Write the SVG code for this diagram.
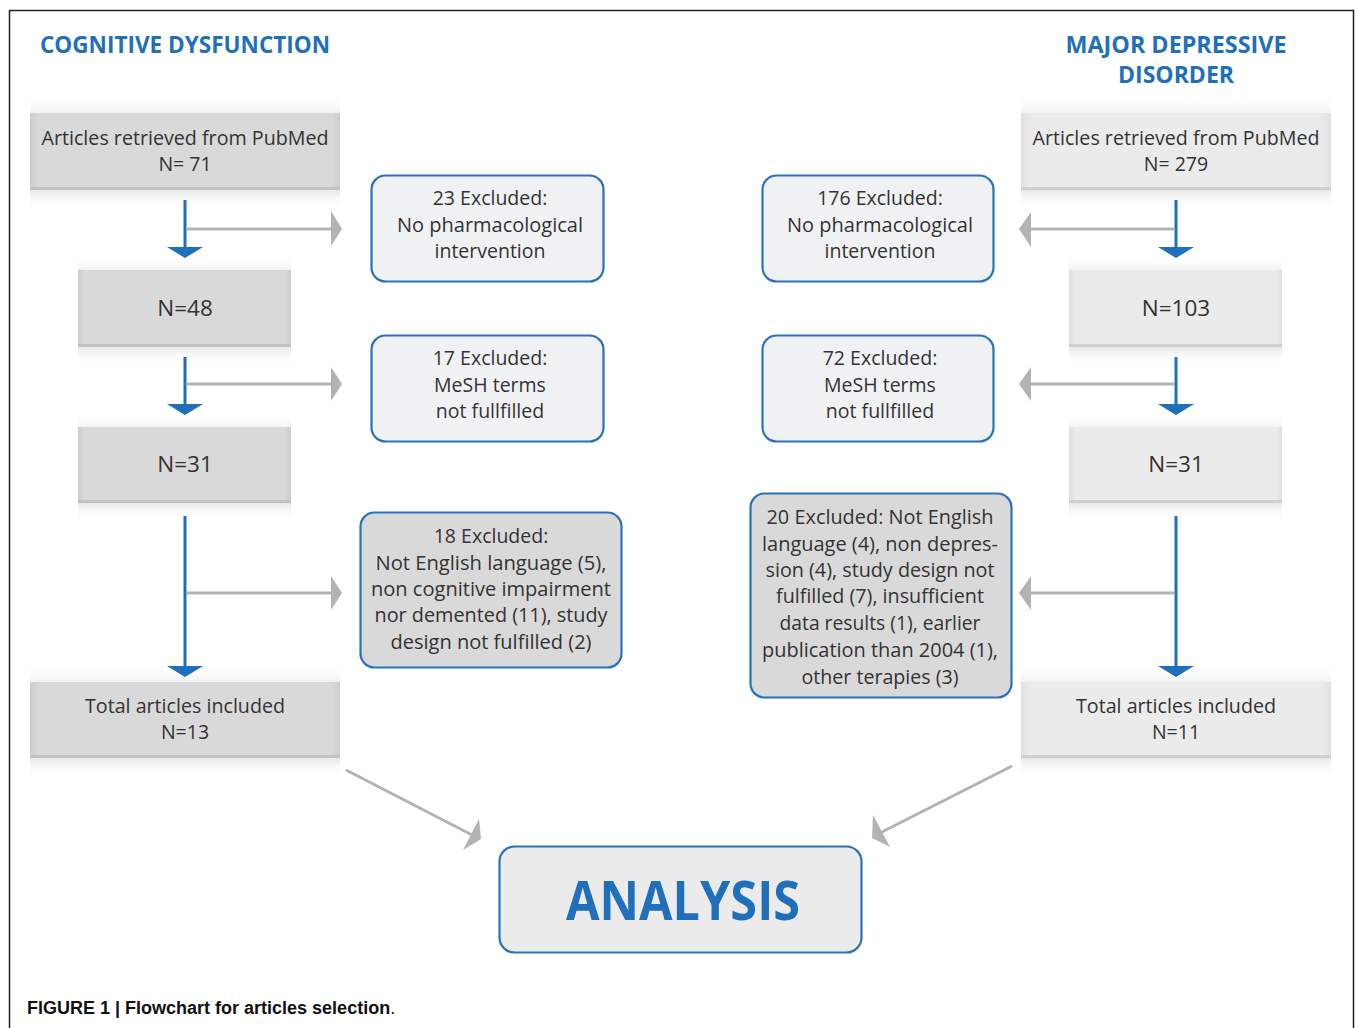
<svg xmlns="http://www.w3.org/2000/svg" width="1355" height="1028" viewBox="0 0 1355 1028">
<defs>
<style>
.t{font-family:"Open Sans","Noto Sans","Liberation Sans",sans-serif;font-size:19.5px;fill:#333;text-anchor:middle}
.n{font-size:22.5px}
.h{font-family:"Open Sans","Liberation Sans",sans-serif;font-weight:bold;font-size:23px;fill:#1f6fba;text-anchor:middle}
.ex{fill:#f0f1f3;stroke:#2a72b8;stroke-width:2.2}
.exg{fill:#d9d9d9;stroke:#2a72b8;stroke-width:2.2}
.bl{stroke:#1f6fba;stroke-width:3;fill:none}
.bh{fill:#1f6fba}
.gl{stroke:#b3b3b3;stroke-width:3;fill:none}
.gh{fill:#b3b3b3}
</style>
<linearGradient id="up" x1="0" y1="0" x2="0" y2="1">
<stop offset="0" stop-color="#ffffff" stop-opacity="0"/>
<stop offset="1" stop-color="#ececec" stop-opacity="0.7"/>
</linearGradient>
<linearGradient id="dn" x1="0" y1="0" x2="0" y2="1">
<stop offset="0" stop-color="#e2e2e2" stop-opacity="0.8"/>
<stop offset="1" stop-color="#ffffff" stop-opacity="0"/>
</linearGradient>
<linearGradient id="sideD" x1="0" y1="0" x2="1" y2="0">
<stop offset="0" stop-color="#cdcdcd"/>
<stop offset="0.03" stop-color="#d9d9d9"/>
<stop offset="0.97" stop-color="#d9d9d9"/>
<stop offset="1" stop-color="#cdcdcd"/>
</linearGradient>
<linearGradient id="sideL" x1="0" y1="0" x2="1" y2="0">
<stop offset="0" stop-color="#e0e0e0"/>
<stop offset="0.03" stop-color="#ebebeb"/>
<stop offset="0.97" stop-color="#ebebeb"/>
<stop offset="1" stop-color="#e0e0e0"/>
</linearGradient>
</defs>
<rect x="0" y="0" width="1355" height="1028" fill="#ffffff"/>
<rect x="9.5" y="10.5" width="1344" height="1030" fill="none" stroke="#222" stroke-width="1.5"/>

<g id="title-left"><text class="h" x="185" y="53" textLength="290" lengthAdjust="spacingAndGlyphs">COGNITIVE DYSFUNCTION</text></g>
<g id="title-right"><text class="h" x="1176" y="53" textLength="221" lengthAdjust="spacingAndGlyphs">MAJOR DEPRESSIVE</text><text class="h" x="1176" y="83" textLength="116" lengthAdjust="spacingAndGlyphs">DISORDER</text></g>

<!-- left column boxes -->
<g id="L1">
<rect x="30" y="95" width="310" height="18" fill="url(#up)"/>
<rect x="30" y="113" width="310" height="77" fill="url(#sideD)"/>
<rect x="30" y="187" width="310" height="3" fill="#c2c2c2"/>
<rect x="30" y="190" width="310" height="20" fill="url(#dn)"/>
<text class="t" x="185" y="145" textLength="287" lengthAdjust="spacingAndGlyphs">Articles retrieved from PubMed</text>
<text class="t" x="185" y="171">N= 71</text>
</g>
<g id="L2">
<rect x="78" y="256" width="213" height="14" fill="url(#up)"/>
<rect x="78" y="270" width="213" height="77" fill="url(#sideD)"/>
<rect x="78" y="344" width="213" height="3" fill="#c2c2c2"/>
<rect x="78" y="347" width="213" height="18" fill="url(#dn)"/>
<text class="t n" x="185" y="316">N=48</text>
</g>
<g id="L3">
<rect x="78" y="413" width="213" height="14" fill="url(#up)"/>
<rect x="78" y="427" width="213" height="76" fill="url(#sideD)"/>
<rect x="78" y="500" width="213" height="3" fill="#c2c2c2"/>
<rect x="78" y="503" width="213" height="18" fill="url(#dn)"/>
<text class="t n" x="185" y="472">N=31</text>
</g>
<g id="L4">
<rect x="30" y="664" width="310" height="18" fill="url(#up)"/>
<rect x="30" y="682" width="310" height="76" fill="url(#sideD)"/>
<rect x="30" y="755" width="310" height="3" fill="#c2c2c2"/>
<rect x="30" y="758" width="310" height="20" fill="url(#dn)"/>
<text class="t" x="185" y="713" textLength="200" lengthAdjust="spacingAndGlyphs">Total articles included</text>
<text class="t" x="185" y="739">N=13</text>
</g>

<!-- right column boxes -->
<g id="R1">
<rect x="1021" y="95" width="310" height="18" fill="url(#up)"/>
<rect x="1021" y="113" width="310" height="77" fill="url(#sideL)"/>
<rect x="1021" y="187" width="310" height="3" fill="#cfcfcf"/>
<rect x="1021" y="190" width="310" height="20" fill="url(#dn)"/>
<text class="t" x="1176" y="145" textLength="287" lengthAdjust="spacingAndGlyphs">Articles retrieved from PubMed</text>
<text class="t" x="1176" y="171">N= 279</text>
</g>
<g id="R2">
<rect x="1069" y="256" width="213" height="14" fill="url(#up)"/>
<rect x="1069" y="270" width="213" height="77" fill="url(#sideL)"/>
<rect x="1069" y="344" width="213" height="3" fill="#cfcfcf"/>
<rect x="1069" y="347" width="213" height="18" fill="url(#dn)"/>
<text class="t n" x="1176" y="316">N=103</text>
</g>
<g id="R3">
<rect x="1069" y="413" width="213" height="14" fill="url(#up)"/>
<rect x="1069" y="427" width="213" height="76" fill="url(#sideL)"/>
<rect x="1069" y="500" width="213" height="3" fill="#cfcfcf"/>
<rect x="1069" y="503" width="213" height="18" fill="url(#dn)"/>
<text class="t n" x="1176" y="472">N=31</text>
</g>
<g id="R4">
<rect x="1021" y="664" width="310" height="18" fill="url(#up)"/>
<rect x="1021" y="682" width="310" height="76" fill="url(#sideL)"/>
<rect x="1021" y="755" width="310" height="3" fill="#cfcfcf"/>
<rect x="1021" y="758" width="310" height="20" fill="url(#dn)"/>
<text class="t" x="1176" y="713" textLength="200" lengthAdjust="spacingAndGlyphs">Total articles included</text>
<text class="t" x="1176" y="739">N=11</text>
</g>

<!-- exclusion boxes left -->
<g id="EL1">
<rect class="ex" x="371.5" y="175.5" width="232" height="106" rx="14"/>
<text class="t" x="490" y="205">23 Excluded:</text>
<text class="t" x="490" y="232" textLength="186" lengthAdjust="spacingAndGlyphs">No pharmacological</text>
<text class="t" x="490" y="258">intervention</text>
</g>
<g id="EL2">
<rect class="ex" x="371.5" y="335.5" width="232" height="106" rx="14"/>
<text class="t" x="490" y="365">17 Excluded:</text>
<text class="t" x="490" y="392">MeSH terms</text>
<text class="t" x="490" y="418">not fullfilled</text>
</g>
<g id="EL3">
<rect class="exg" x="360.5" y="512.5" width="261" height="155" rx="14"/>
<text class="t" x="491" y="543">18 Excluded:</text>
<text class="t" x="491" y="570" textLength="231" lengthAdjust="spacingAndGlyphs">Not English language (5),</text>
<text class="t" x="491" y="596" textLength="240" lengthAdjust="spacingAndGlyphs">non cognitive impairment</text>
<text class="t" x="491" y="622" textLength="233" lengthAdjust="spacingAndGlyphs">nor demented (11), study</text>
<text class="t" x="491" y="649" textLength="201" lengthAdjust="spacingAndGlyphs">design not fulfilled (2)</text>
</g>

<!-- exclusion boxes right -->
<g id="ER1">
<rect class="ex" x="762.5" y="175.5" width="231" height="106" rx="14"/>
<text class="t" x="880" y="205">176 Excluded:</text>
<text class="t" x="880" y="232" textLength="186" lengthAdjust="spacingAndGlyphs">No pharmacological</text>
<text class="t" x="880" y="258">intervention</text>
</g>
<g id="ER2">
<rect class="ex" x="762.5" y="335.5" width="231" height="106" rx="14"/>
<text class="t" x="880" y="365">72 Excluded:</text>
<text class="t" x="880" y="392">MeSH terms</text>
<text class="t" x="880" y="418">not fullfilled</text>
</g>
<g id="ER3">
<rect class="exg" x="750.5" y="493.5" width="261" height="204" rx="14"/>
<text class="t" x="880" y="524" textLength="227" lengthAdjust="spacingAndGlyphs">20 Excluded: Not English</text>
<text class="t" x="880" y="551" textLength="236" lengthAdjust="spacingAndGlyphs">language (4), non depres-</text>
<text class="t" x="880" y="577" textLength="229" lengthAdjust="spacingAndGlyphs">sion (4), study design not</text>
<text class="t" x="880" y="603" textLength="208" lengthAdjust="spacingAndGlyphs">fulfilled (7), insufficient</text>
<text class="t" x="880" y="630" textLength="201" lengthAdjust="spacingAndGlyphs">data results (1), earlier</text>
<text class="t" x="880" y="657" textLength="236" lengthAdjust="spacingAndGlyphs">publication than 2004 (1),</text>
<text class="t" x="880" y="684" textLength="157" lengthAdjust="spacingAndGlyphs">other terapies (3)</text>
</g>

<g id="ANALYSIS">
<rect x="499.5" y="846.5" width="362" height="106" rx="15" fill="#ebebeb" stroke="#2a72b8" stroke-width="2.2"/>
<text x="683" y="920" font-family="'Open Sans','Liberation Sans',sans-serif" font-weight="bold" font-size="53" fill="#1f6fba" text-anchor="middle" textLength="234" lengthAdjust="spacingAndGlyphs">ANALYSIS</text>
</g>

<g id="connectors">
<!-- left blue -->
<line class="bl" x1="185" y1="200" x2="185" y2="249"/>
<polygon class="bh" points="167,247 203,247 185,258"/>
<line class="bl" x1="185" y1="357" x2="185" y2="406"/>
<polygon class="bh" points="167,404 203,404 185,415"/>
<line class="bl" x1="185" y1="516" x2="185" y2="667"/>
<polygon class="bh" points="167,666 203,666 185,677"/>
<!-- left gray -->
<line class="gl" x1="187" y1="229" x2="332" y2="229"/>
<polygon class="gh" points="331,211 342,229 331,246"/>
<line class="gl" x1="187" y1="384" x2="332" y2="384"/>
<polygon class="gh" points="331,367 342,384 331,401"/>
<line class="gl" x1="187" y1="593" x2="332" y2="593"/>
<polygon class="gh" points="331,576 342,593 331,610"/>
<!-- right blue -->
<line class="bl" x1="1176" y1="200" x2="1176" y2="249"/>
<polygon class="bh" points="1158,247 1194,247 1176,258"/>
<line class="bl" x1="1176" y1="357" x2="1176" y2="406"/>
<polygon class="bh" points="1158,404 1194,404 1176,415"/>
<line class="bl" x1="1176" y1="516" x2="1176" y2="667"/>
<polygon class="bh" points="1158,666 1194,666 1176,677"/>
<!-- right gray -->
<line class="gl" x1="1174" y1="229" x2="1030" y2="229"/>
<polygon class="gh" points="1031,212 1019,229 1031,247"/>
<line class="gl" x1="1174" y1="384" x2="1030" y2="384"/>
<polygon class="gh" points="1031,367 1019,384 1031,401"/>
<line class="gl" x1="1174" y1="593" x2="1030" y2="593"/>
<polygon class="gh" points="1031,576 1019,593 1031,610"/>
<!-- diagonals -->
<line class="gl" x1="346" y1="770" x2="474" y2="836"/>
<polygon class="gh" points="479,819 481,839 463,850"/>
<line class="gl" x1="1012" y1="766" x2="878" y2="834"/>
<polygon class="gh" points="873,815 872,838 890,847"/>
</g>

<g id="caption">
<text x="27" y="1014" font-family="'Liberation Sans',Arial,sans-serif" font-size="18" fill="#111"><tspan font-weight="bold">FIGURE 1 | Flowchart for articles selection</tspan>.</text>
</g>
</svg>
